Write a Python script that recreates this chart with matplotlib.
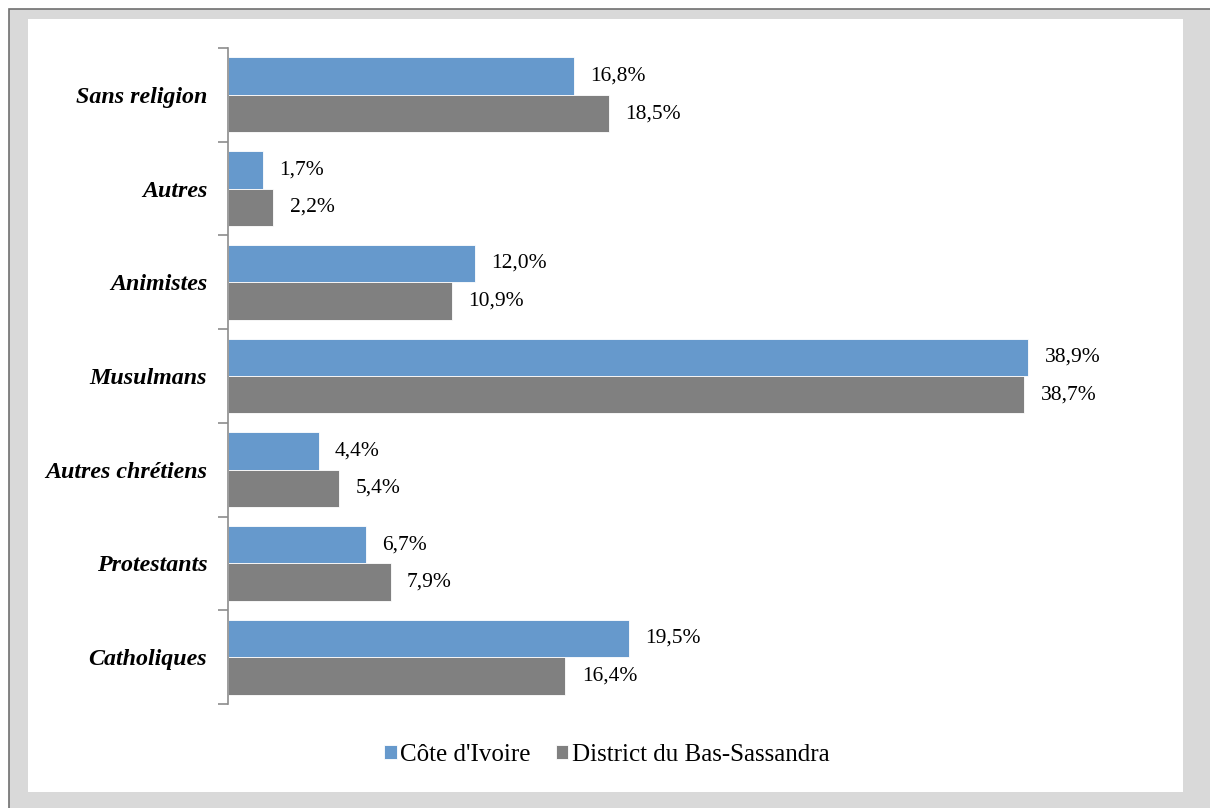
import matplotlib.pyplot as plt
import numpy as np
from matplotlib.patches import Rectangle

categories = ["Catholiques", "Protestants", "Autres chrétiens", "Musulmans",
              "Animistes", "Autres", "Sans religion"]
civ = [19.5, 6.7, 4.4, 38.9, 12.0, 1.7, 16.8]
district = [16.4, 7.9, 5.4, 38.7, 10.9, 2.2, 18.5]
series_names = ["Côte d'Ivoire", "District du Bas-Sassandra"]

blue = "#6699cc"
grey = "#808080"

plt.rcParams['font.family'] = ['Liberation Serif', 'DejaVu Serif']

W, H = 1210, 808
fig = plt.figure(figsize=(W / 100, H / 100), dpi=100)
fig.patch.set_facecolor("white")

# background frame
fig.patches.append(Rectangle((9 / W, -0.1), 1.1, 1.1 - 9 / H, transform=fig.transFigure,
                             facecolor="#d9d9d9", edgecolor="#707070", lw=1.2, zorder=-2))
fig.patches.append(Rectangle((28 / W, 1 - 792 / H), (1183 - 28) / W, (792 - 19) / H,
                             transform=fig.transFigure, facecolor="white",
                             edgecolor="none", zorder=-1))

ax = fig.add_axes([228 / W, 1 - 704 / H, (1160 - 228) / W, (704 - 48) / H])
ax.set_facecolor("none")

y = np.arange(len(categories))
h = 0.4
ax.barh(y + h / 2, civ, height=h, color=blue, edgecolor="white", lw=0.6, label=series_names[0])
ax.barh(y - h / 2, district, height=h, color=grey, edgecolor="white", lw=0.6, label=series_names[1])

for yi, v in zip(y, civ):
    ax.text(v + 0.8, yi + h / 2, f"{v:.1f}".replace(".", ",") + "%",
            va="center", ha="left", fontsize=15.5)
for yi, v in zip(y, district):
    ax.text(v + 0.8, yi - h / 2, f"{v:.1f}".replace(".", ",") + "%",
            va="center", ha="left", fontsize=15.5)

ax.set_xlim(0, 932 / 20.57)
ax.set_ylim(-0.5, len(categories) - 0.5)
ax.set_xticks([])
ax.set_yticks(y)
ax.set_yticklabels(categories, fontsize=17.3, fontweight="bold", fontstyle="italic")
ax.set_yticks(np.arange(-0.5, len(categories)), minor=True)
ax.tick_params(axis="y", which="major", length=0, pad=15)
ax.tick_params(axis="y", which="minor", length=7, width=1.2, color="#8c8c8c", direction="out")
for s in ["top", "right", "bottom"]:
    ax.spines[s].set_visible(False)
ax.spines["left"].set_color("#8c8c8c")
ax.spines["left"].set_linewidth(1.2)

fig.legend(loc="center", bbox_to_anchor=(607 / W, 1 - 755 / H), ncol=2, frameon=False,
           fontsize=18, handlelength=0.5, handleheight=0.5, handletextpad=0.15,
           columnspacing=1.0)

fig.savefig("out.png", dpi=100)
